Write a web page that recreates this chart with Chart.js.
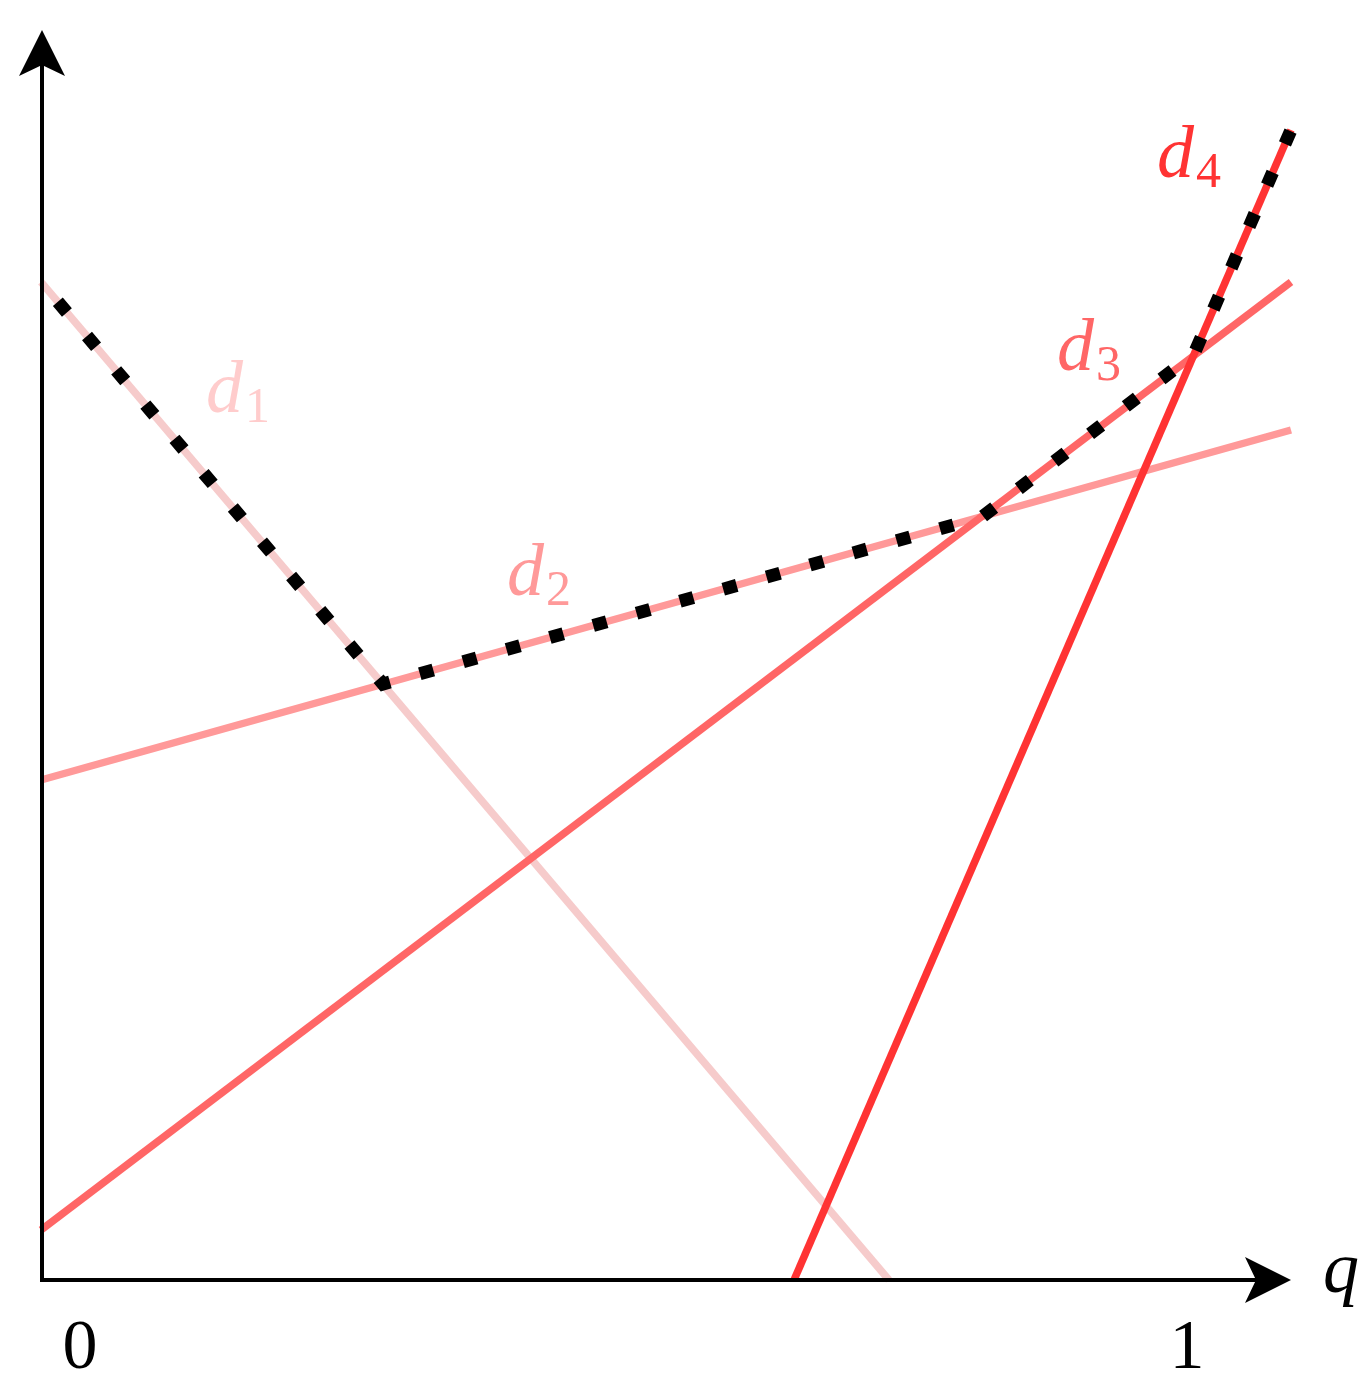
<!DOCTYPE html>
<html lang="en">
<head>
    <meta charset="UTF-8">
    <title>Upper envelope of d1..d4</title>
    <script src="https://cdn.jsdelivr.net/npm/chart.js"></script>
    <style>
        body {
            margin: 0;
            background: #fff;
        }
        canvas {
            display: block;
        }
    </style>
</head>
<body>
    <canvas id="envChart" width="1372" height="1389"></canvas>

    <script>
        // values (q horizontal, value vertical, arbitrary units)
        const lineNames = ['d1', 'd2', 'd3', 'd4'];
        const d1X = [0, 848];
        const d1Y = [998, 0];
        const d2X = [0, 1250];
        const d2Y = [500, 850];
        const d3X = [0, 1250];
        const d3Y = [50, 998];
        const d4X = [753, 1250];
        const d4Y = [0, 1150];

        // breakpoints of the dotted upper envelope
        const envX = [0, 342, 941, 1153, 1250];
        const envY = [998, 596, 763, 926, 1150];

        // x axis tick labels
        const xTickValues = [39, 1146];
        const xTickLabels = ['0', '1'];

        const lineColors = ['#f6cbcb', '#ff9999', '#ff6666', '#ff3333'];
        const labelColors = ['#ffcccc', '#ff9999', '#ff6666', '#ff3333'];
        // where each label sits (data units, baseline of the "d")
        const labelAt = [[165, 868], [466, 685], [1016, 910], [1116, 1103]];

        function pts(xs, ys) {
            return xs.map((x, i) => ({ x: x, y: ys[i] }));
        }

        const lineSets = [[d1X, d1Y], [d2X, d2Y], [d3X, d3Y], [d4X, d4Y]].map((s, i) => ({
            label: lineNames[i],
            data: pts(s[0], s[1]),
            showLine: true,
            borderColor: lineColors[i],
            borderWidth: 7.5,
            pointRadius: 0,
            clip: false,
            order: 10 - i
        }));

        const envelope = {
            label: 'envelope',
            data: pts(envX, envY),
            showLine: true,
            borderColor: '#000',
            borderWidth: 13,
            borderDash: [14, 31],
            borderDashOffset: 19,
            borderJoinStyle: 'miter',
            pointRadius: 0,
            clip: false,
            order: 0
        };

        // axes with arrow heads, tick labels and the d_i labels
        const decorations = {
            id: 'decorations',
            afterDatasetsDraw(chart) {
                const c = chart.ctx;
                const a = chart.chartArea;
                const xs = chart.scales.x;
                const ys = chart.scales.y;
                const x0 = a.left + 1;
                const y0 = a.bottom;

                c.save();
                c.strokeStyle = '#000';
                c.fillStyle = '#000';
                c.lineWidth = 4;
                c.beginPath();
                c.moveTo(x0, y0 + 2);
                c.lineTo(x0, 60);
                c.moveTo(x0 - 2, y0);
                c.lineTo(1260, y0);
                c.stroke();

                // y arrow
                c.beginPath();
                c.moveTo(x0, 30);
                c.lineTo(x0 + 23, 76);
                c.lineTo(x0, 65);
                c.lineTo(x0 - 23, 76);
                c.closePath();
                c.fill();
                // x arrow
                c.beginPath();
                c.moveTo(1291, y0);
                c.lineTo(1245, y0 + 23);
                c.lineTo(1256, y0);
                c.lineTo(1245, y0 - 23);
                c.closePath();
                c.fill();

                c.font = '70px "Liberation Serif", "DejaVu Serif", serif';
                c.textAlign = 'center';
                c.textBaseline = 'alphabetic';
                xTickValues.forEach((v, i) => {
                    c.fillText(xTickLabels[i], xs.getPixelForValue(v), 1368);
                });

                c.textAlign = 'left';
                c.font = 'italic 72px "Liberation Serif", "DejaVu Serif", serif';
                c.fillText('q', 1323, 1292);

                lineNames.forEach((n, i) => {
                    const px = xs.getPixelForValue(labelAt[i][0]);
                    const py = ys.getPixelForValue(labelAt[i][1]);
                    c.fillStyle = labelColors[i];
                    c.font = 'italic 74px "Liberation Serif", "DejaVu Serif", serif';
                    c.fillText('d', px, py);
                    const w = c.measureText('d').width;
                    c.font = '50px "Liberation Serif", "DejaVu Serif", serif';
                    c.fillText(n.slice(1), px + w + 2, py + 10);
                });
                c.restore();
            }
        };

        const ctx = document.getElementById('envChart').getContext('2d');
        new Chart(ctx, {
            type: 'scatter',
            data: { datasets: lineSets.concat([envelope]) },
            options: {
                responsive: false,
                animation: false,
                layout: { padding: { left: 41, right: 81, top: 30, bottom: 109 } },
                plugins: {
                    legend: { display: false },
                    tooltip: { enabled: false }
                },
                scales: {
                    x: { type: 'linear', min: 0, max: 1250, display: false },
                    y: { type: 'linear', min: 0, max: 1250, display: false }
                }
            },
            plugins: [decorations]
        });
    </script>
</body>
</html>
